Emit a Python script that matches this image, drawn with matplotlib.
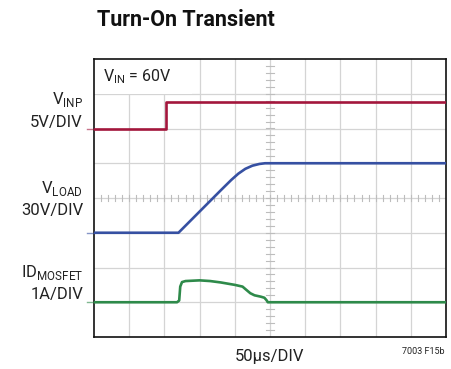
import matplotlib
matplotlib.use("Agg")
import matplotlib.pyplot as plt
import numpy as np

# ---- data (time in µs, 50 µs/div) ----
t_vinp = [0, 102, 102, 500]
v_inp = [0.0, 0.0, 3.8, 3.8]          # volts, 5 V/div, offset 6 div

t_vload = [0, 120, 180, 195, 205, 215, 225, 235, 243, 500]
v_load = [0, 0, 36.6, 45.6, 51.0, 55.2, 57.9, 59.4, 60, 60]   # volts, 30 V/div, offset 3 div

t_id = [0, 118, 121, 122.5, 125, 130, 150, 165, 180, 200, 211, 215, 222, 228, 237, 242, 245, 247, 500]
i_d = [0, 0, 0.05, 0.45, 0.58, 0.61, 0.63, 0.61, 0.57, 0.5, 0.45, 0.38, 0.26, 0.2, 0.16, 0.13, 0.06, 0.0, 0]   # amps, 1 A/div, offset 1 div

us_per_div = 50
vinp_scale, vinp_off = 5, 6
vload_scale, vload_off = 30, 3
id_scale, id_off = 1, 1

RED = "#a3163c"
BLUE = "#3650a2"
GREEN = "#2e8a4a"

fam = ["Liberation Sans Narrow", "DejaVu Sans Condensed", "Roboto", "DejaVu Sans"]

fig = plt.figure(figsize=(4.51, 3.69), dpi=100)
ax = fig.add_axes([94/451, 1-337/369, 352/451, 278/369])
ax.set_xlim(0, 10)
ax.set_ylim(0, 8)

# grid
for gx in range(1, 10):
    ax.axvline(gx, color="#d4d4d4", lw=0.9, zorder=1)
for gy in range(1, 8):
    ax.axhline(gy, color="#d4d4d4", lw=0.9, zorder=1)
# center minor ticks
for k in np.arange(0.2, 10, 0.2):
    ax.plot([k, k], [4-0.1, 4+0.1], color="#bdbdbd", lw=0.8, zorder=1)
for k in np.arange(0.2, 8, 0.2):
    ax.plot([5-0.1, 5+0.1], [k, k], color="#bdbdbd", lw=0.8, zorder=1)

# VIN box
ax.add_patch(plt.Rectangle((0, 7.0), 2.78, 1.0, facecolor="white", edgecolor="none", zorder=2))
ax.text(0.25, 7.5, r"V$_{\mathregular{IN}}$ = 60V", fontsize=11.5, family=fam, va="center", ha="left", zorder=3, color="#222222")

# traces
ax.plot(np.array(t_vinp)/us_per_div, np.array(v_inp)/vinp_scale + vinp_off, color=RED, lw=1.9, zorder=4)
ax.plot(np.array(t_vload)/us_per_div, np.array(v_load)/vload_scale + vload_off, color=BLUE, lw=1.9, zorder=4)
ax.plot(np.array(t_id)/us_per_div, np.array(i_d)/id_scale + id_off, color=GREEN, lw=1.9, zorder=4)

ax.set_xticks([])
ax.set_yticks([])
for s in ax.spines.values():
    s.set_linewidth(1.2)
    s.set_color("#111111")

# ground markers outside left
for lvl, c in [(vinp_off, RED), (vload_off, BLUE), (id_off, GREEN)]:
    ax.plot([-0.2, 0], [lvl, lvl], color=c, lw=1.0, alpha=0.6, clip_on=False, zorder=4)

# labels
def lab(y, txt, size=12):
    fig.text(83/451, 1-y/369, txt, ha="right", va="center", fontsize=size, family=fam, color="#222222")

lab(100, r"V$_{\mathregular{INP}}$")
lab(122, "5V/DIV")
lab(189, r"V$_{\mathregular{LOAD}}$")
lab(211, "30V/DIV")
lab(273, r"ID$_{\mathregular{MOSFET}}$")
lab(295, "1A/DIV")

fig.text(270/451, 1-356/369, "50µs/DIV", ha="center", va="center", fontsize=12, family=fam, color="#222222")
fig.text(445/451, 1-352/369, "7003 F15b", ha="right", va="center", fontsize=6.5, family=fam, color="#222222")
fig.text(97/451, 1-20/369, "Turn-On Transient", ha="left", va="center", fontsize=15.5, family=fam, weight="bold", color="#111111")

fig.savefig("out.png", dpi=100)
